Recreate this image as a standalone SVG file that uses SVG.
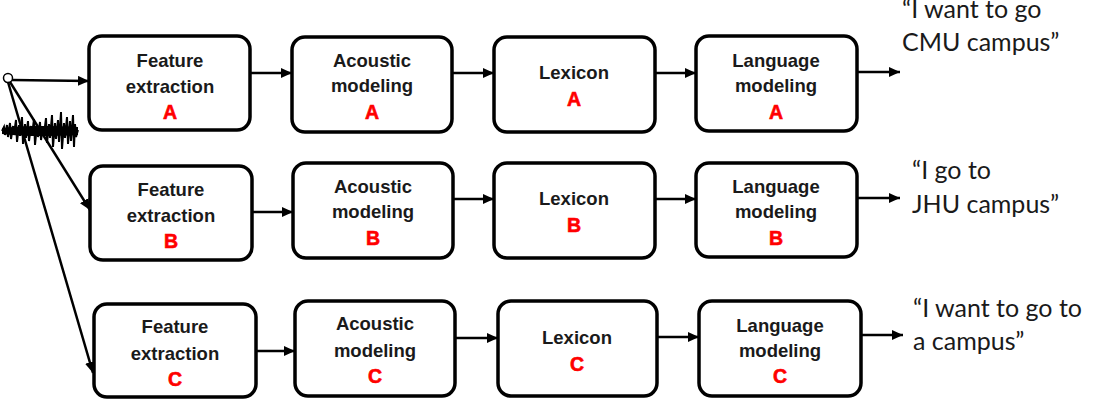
<svg xmlns="http://www.w3.org/2000/svg" width="1109" height="407" viewBox="0 0 1109 407">
<defs>
<marker id="ah" markerUnits="userSpaceOnUse" markerWidth="12" markerHeight="10" refX="11" refY="5" orient="auto">
<path d="M0,0 L11,5 L0,10 Z" fill="#000"/>
</marker>
<style>
.box{fill:#fff;stroke:#000;stroke-width:3.5}
.t{font-family:"Liberation Sans",Arial,sans-serif;font-weight:bold;font-size:18.5px;fill:#1a1a1a;text-anchor:middle}
.r{font-family:"Liberation Sans",Arial,sans-serif;font-weight:bold;font-size:19.5px;fill:#ff0000;text-anchor:middle;stroke:#ff0000;stroke-width:0.6}
.o{font-family:Lato,"Open Sans",sans-serif;font-size:25px;fill:#1a1a1a}
.c{stroke:#000;stroke-width:2.5;fill:none;marker-end:url(#ah)}
</style>
</defs>
<rect width="1109" height="407" fill="#fff"/>
<g id="waveform">
<path d="M2,131 L4,127 L5,135 L7,125 L8,137 L10,123 L11,139 L13,126 L14,134 L16,120 L17,142 L19,125 L20,136 L22,117 L23,144 L25,124 L26,138 L28,121 L29,141 L31,126 L32,135 L34,119 L35,145 L37,125 L38,137 L40,122 L41,140 L43,127 L44,134 L46,118 L47,143 L49,124 L50,138 L52,115 L53,147 L55,123 L56,139 L58,120 L59,142 L61,112 L62,149 L64,123 L65,138 L67,117 L68,144 L70,121 L71,141 L73,115 L74,147 L75,124 L76,137 L78,130" stroke="#000" stroke-width="2" fill="none"/>
<path d="M2,128 C20,126 40,125 78,127 L78,135 C40,137 20,136 2,134 Z" fill="#000"/>
</g>
<g id="source">
<circle cx="8" cy="78" r="4.5" fill="#fff" stroke="#000" stroke-width="1.5"/>
</g>
<g id="connectors">
<line class="c" x1="12" y1="80" x2="89" y2="81"/>
<line class="c" x1="10" y1="82" x2="90" y2="210"/>
<line class="c" x1="8" y1="82" x2="93" y2="373"/>
<line class="c" x1="250" y1="73" x2="292" y2="73"/>
<line class="c" x1="452" y1="73" x2="494" y2="73"/>
<line class="c" x1="655" y1="73" x2="696" y2="73"/>
<line class="c" x1="857" y1="72" x2="900" y2="72"/>
<line class="c" x1="252" y1="212" x2="293" y2="212"/>
<line class="c" x1="453" y1="199" x2="494" y2="199"/>
<line class="c" x1="655" y1="199" x2="696" y2="199"/>
<line class="c" x1="857" y1="198" x2="900" y2="198"/>
<line class="c" x1="256" y1="351" x2="295" y2="351"/>
<line class="c" x1="455" y1="338" x2="498" y2="338"/>
<line class="c" x1="657" y1="337" x2="699" y2="337"/>
<line class="c" x1="861" y1="335" x2="903" y2="335"/>
</g>
<g id="featA"><rect class="box" x="89" y="36" width="161" height="94" rx="13"/>
<text class="t" x="170" y="67">Feature</text><text class="t" x="170" y="93">extraction</text><text class="r" x="170" y="119">A</text></g>
<g id="acouA"><rect class="box" x="292" y="37" width="160" height="95" rx="13"/>
<text class="t" x="372" y="67">Acoustic</text><text class="t" x="372" y="92">modeling</text><text class="r" x="372" y="119">A</text></g>
<g id="lexA"><rect class="box" x="494" y="37" width="161" height="95" rx="13"/>
<text class="t" x="574" y="79">Lexicon</text><text class="r" x="574" y="106">A</text></g>
<g id="langA"><rect class="box" x="696" y="36" width="161" height="95" rx="13"/>
<text class="t" x="776" y="67">Language</text><text class="t" x="776" y="92">modeling</text><text class="r" x="776" y="119">A</text></g>
<g id="outA"><text class="o" x="902" y="18">“I want to go</text><text class="o" x="902" y="51">CMU campus”</text></g>

<g id="featB"><rect class="box" x="90" y="166" width="162" height="94" rx="13"/>
<text class="t" x="171" y="196">Feature</text><text class="t" x="171" y="222">extraction</text><text class="r" x="171" y="248">B</text></g>
<g id="acouB"><rect class="box" x="293" y="163" width="160" height="95" rx="13"/>
<text class="t" x="373" y="193">Acoustic</text><text class="t" x="373" y="218">modeling</text><text class="r" x="373" y="245">B</text></g>
<g id="lexB"><rect class="box" x="494" y="163" width="161" height="95" rx="13"/>
<text class="t" x="574" y="205">Lexicon</text><text class="r" x="574" y="232">B</text></g>
<g id="langB"><rect class="box" x="696" y="163" width="161" height="94" rx="13"/>
<text class="t" x="776" y="193">Language</text><text class="t" x="776" y="218">modeling</text><text class="r" x="776" y="245">B</text></g>
<g id="outB"><text class="o" x="912" y="179">“I go to</text><text class="o" x="912" y="213">JHU campus”</text></g>

<g id="featC"><rect class="box" x="94" y="304" width="162" height="93" rx="13"/>
<text class="t" x="175" y="333">Feature</text><text class="t" x="175" y="360">extraction</text><text class="r" x="175" y="386">C</text></g>
<g id="acouC"><rect class="box" x="295" y="301" width="160" height="95" rx="13"/>
<text class="t" x="375" y="330">Acoustic</text><text class="t" x="375" y="357">modeling</text><text class="r" x="375" y="383">C</text></g>
<g id="lexC"><rect class="box" x="498" y="301" width="159" height="95" rx="13"/>
<text class="t" x="577" y="344">Lexicon</text><text class="r" x="577" y="371">C</text></g>
<g id="langC"><rect class="box" x="699" y="301" width="162" height="95" rx="13"/>
<text class="t" x="780" y="332">Language</text><text class="t" x="780" y="357">modeling</text><text class="r" x="780" y="383">C</text></g>
<g id="outC"><text class="o" x="913" y="317">“I want to go to</text><text class="o" x="913" y="350">a campus”</text></g>
</svg>
